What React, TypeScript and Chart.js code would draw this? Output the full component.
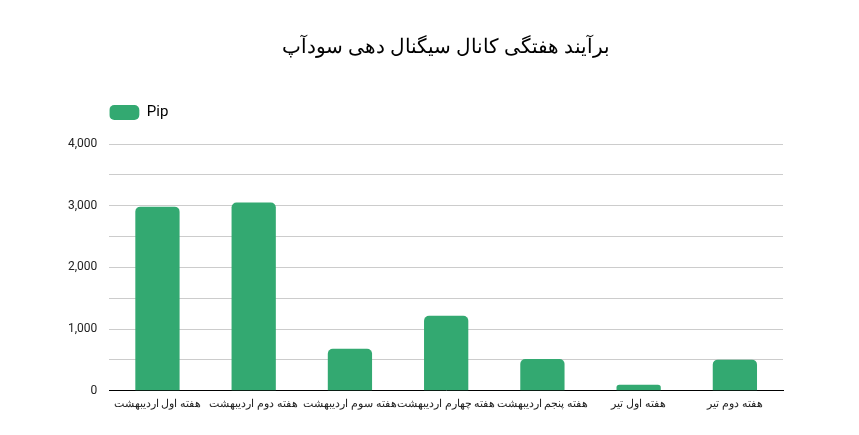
import { useEffect, useRef } from 'react';
import Chart from 'chart.js/auto';

const chartTitle = 'برآیند هفتگی کانال سیگنال دهی سودآپ';
const seriesName = 'Pip';
const weeks = [
  'هفته اول اردیبهشت',
  'هفته دوم اردیبهشت',
  'هفته سوم اردیبهشت',
  'هفته چهارم اردیبهشت',
  'هفته پنجم اردیبهشت',
  'هفته اول تیر',
  'هفته دوم تیر',
];
const pips = [2985, 3050, 680, 1215, 515, 100, 505];
const yMax = 4000;
const yStep = 500;

// adds some room under the legend
const legendSpacer = {
  id: 'legendSpacer',
  beforeInit(chart: any) {
    const origFit = chart.legend.fit;
    chart.legend.fit = function fit() {
      origFit.bind(chart.legend)();
      this.height += 14;
    };
  },
};

export default function App() {
  const canvasRef = useRef<HTMLCanvasElement>(null);
  const chartRef = useRef<Chart | null>(null);

  useEffect(() => {
    if (!canvasRef.current) return;
    if (chartRef.current) chartRef.current.destroy();

    const green = '#33a971';
    const font = 'Roboto, "Noto Sans", sans-serif';

    chartRef.current = new Chart(canvasRef.current, {
      type: 'bar',
      data: {
        labels: weeks,
        datasets: [{
          label: seriesName,
          data: pips,
          backgroundColor: green,
          borderRadius: 5,
          borderSkipped: 'bottom',
          categoryPercentage: 1,
          barPercentage: 0.46,
        }]
      },
      plugins: [legendSpacer],
      options: {
        animation: false,
        responsive: false,
        maintainAspectRatio: false,
        layout: { padding: { left: 56, right: 76, top: 0, bottom: 17 } },
        plugins: {
          title: {
            display: true,
            text: chartTitle,
            fullSize: false,
            color: '#000',
            font: { family: font, size: 20, weight: 'normal' },
            padding: { top: 36, bottom: 45 },
          },
          legend: {
            display: true,
            position: 'top',
            align: 'start',
            fullSize: false,
            labels: {
              boxWidth: 30,
              boxHeight: 15,
              useBorderRadius: true,
              borderRadius: 5,
              padding: 0,
              color: '#000',
              font: { family: font, size: 15 },
            },
          },
          tooltip: { enabled: false },
        },
        scales: {
          x: {
            grid: { display: false, drawTicks: false },
            border: { display: true, color: '#000', width: 1 },
            ticks: {
              autoSkip: false,
              maxRotation: 0,
              minRotation: 0,
              padding: 7,
              color: '#222',
              font: { family: font, size: 11 },
            },
          },
          y: {
            min: 0,
            max: yMax,
            border: { display: false },
            grid: { color: '#cccccc', drawTicks: false },
            ticks: {
              stepSize: yStep,
              padding: 12,
              color: '#222',
              font: { family: font, size: 12 },
              callback: (v) => (Number(v) % 1000 === 0 ? Number(v).toLocaleString('en-US') : ''),
            },
          },
        },
      },
    });

    return () => {
      if (chartRef.current) {
        chartRef.current.destroy();
        chartRef.current = null;
      }
    };
  }, []);

  return (
    <div style={{ position: 'absolute', left: 0, top: 0, width: 859, height: 435, background: '#fff' }}>
      <canvas ref={canvasRef} width={859} height={435} />
    </div>
  );
}
